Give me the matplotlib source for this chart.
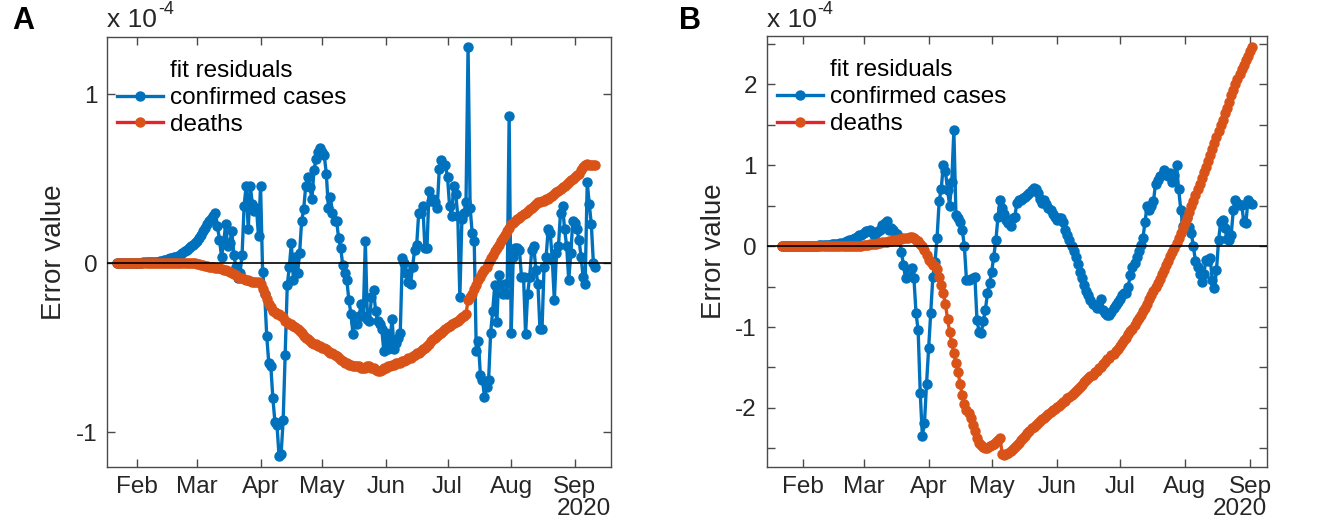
import numpy as np
import pandas as pd
import matplotlib
matplotlib.use('Agg')
import matplotlib.pyplot as plt
import matplotlib.dates as mdates
from matplotlib.lines import Line2D
from matplotlib.ticker import FixedLocator, FuncFormatter

# MATLAB-like palette
BLUE = '#0072BD'
ORANGE = '#D95319'
LEGEND_RED = '#E3242B'
TEXT = '#262626'
BOX = '#4a4a4a'

plt.rcParams.update({
    'font.family': ['Liberation Sans', 'DejaVu Sans'],
    'font.size': 17,
    'axes.unicode_minus': False,
})

# ---------------- data (residuals, units of 1e-4), daily from 22 Jan 2020 ----------------
start_date = '2020-01-22'

# panel A
cases_a = [
    0, 0, 0, 0, 0, 0, 0, 0, 0, 0,
    0, 0, 0, 0.005, 0.005, 0.005, 0.01, 0.01, 0.01, 0.01,
    0.01, 0.015, 0.015, 0.02, 0.02, 0.025, 0.03, 0.03, 0.035, 0.04,
    0.045, 0.05, 0.06, 0.07, 0.08, 0.09, 0.10, 0.11, 0.12, 0.13,
    0.15, 0.17, 0.19, 0.21, 0.23, 0.25, 0.26, 0.28, 0.30, 0.22,
    0.14, 0.04, 0.12, 0.23, 0.10, 0.12, 0.19, 0.05, -0.02, -0.09,
    -0.06, 0.05, 0.34, 0.46, 0.20, 0.46, 0.35, 0.31, 0.33, 0.16,
    0.46, -0.05, -0.18, -0.43, -0.59, -0.61, -0.80, -0.94, -0.96, -1.14,
    -1.13, -0.93, -0.54, -0.13, -0.02, 0.12, -0.10, 0.04, -0.06, 0.06,
    0.25, 0.32, 0.46, 0.51, 0.45, 0.38, 0.55, 0.62, 0.66, 0.68,
    0.66, 0.64, 0.53, 0.33, 0.39, 0.30, 0.25, 0.25, 0.15, 0.09,
    -0.01, -0.06, -0.10, -0.22, -0.30, -0.42, -0.35, -0.36, -0.31, -0.24,
    -0.31, 0.13, -0.33, -0.34, -0.20, -0.16, -0.28, -0.34, -0.36, -0.39,
    -0.52, -0.41, -0.51, -0.46, -0.33, -0.51, -0.47, -0.44, -0.41, 0.03,
    0.00, -0.06, -0.11, -0.12, -0.02, 0.08, 0.11, 0.30, 0.30, 0.34,
    0.09, 0.09, 0.43, 0.37, 0.38, 0.36, 0.33, 0.56, 0.61, 0.58,
    0.58, 0.51, 0.34, 0.28, 0.46, 0.41, 0.28, -0.20, 0.26, 0.30,
    0.36, 1.28, 0.33, 0.18, 0.13, -0.52, -0.46, -0.66, -0.69, -0.79,
    -0.73, -0.69, -0.41, -0.28, -0.13, -0.35, -0.07, -0.13, -0.18, -0.12,
    -0.18, 0.87, -0.41, 0.04, 0.09, 0.09, 0.08, -0.08, -0.08, -0.42,
    -0.18, -0.08, 0.08, 0.10, -0.04, -0.12, -0.39, -0.39, -0.02, 0.04,
    0.20, 0.18, 0.02, -0.22, 0.06, 0.10, 0.30, 0.34, 0.20, 0.10,
    -0.10, 0.06, 0.25, 0.24, 0.20, 0.14, 0.04, -0.08, -0.12, 0.48,
    0.35, 0.23, 0.00, -0.02,
]
deaths_a = [
    0, 0, 0, 0, 0, 0, 0, 0, 0, 0,
    0, 0, 0, 0, 0, 0, 0, 0, 0, 0,
    0, 0, 0, 0, 0, 0, 0, 0, 0, 0,
    0, 0, 0, 0, 0, 0, 0, 0, 0.0, -0.005,
    -0.005, -0.01, -0.01, -0.015, -0.015, -0.02, -0.02, -0.025, -0.03, -0.03,
    -0.03, -0.035, -0.04, -0.04, -0.045, -0.05, -0.06, -0.065, -0.07, -0.08,
    -0.085, -0.09, -0.095, -0.10, -0.10, -0.105, -0.11, -0.11, -0.11, -0.11,
    -0.12, -0.15, -0.18, -0.21, -0.24, -0.26, -0.28, -0.29, -0.30, -0.30,
    -0.31, -0.32, -0.34, -0.35, -0.36, -0.36, -0.37, -0.38, -0.39, -0.40,
    -0.41, -0.43, -0.44, -0.45, -0.46, -0.47, -0.48, -0.48, -0.49, -0.49,
    -0.50, -0.50, -0.51, -0.52, -0.53, -0.53, -0.54, -0.55, -0.56, -0.57,
    -0.58, -0.59, -0.59, -0.60, -0.60, -0.61, -0.61, -0.61, -0.61, -0.62,
    -0.62, -0.62, -0.61, -0.61, -0.62, -0.62, -0.63, -0.635, -0.64, -0.63,
    -0.62, -0.62, -0.61, -0.61, -0.60, -0.60, -0.59, -0.59, -0.59, -0.58,
    -0.58, -0.57, -0.56, -0.56, -0.55, -0.54, -0.53, -0.53, -0.52, -0.51,
    -0.50, -0.49, -0.48, -0.46, -0.45, -0.44, -0.43, -0.42, -0.41, -0.40,
    -0.39, -0.38, -0.37, -0.36, -0.355, -0.35, -0.34, -0.33, -0.32, -0.31,
    -0.30, -0.22, -0.20, -0.18, -0.15, -0.13, -0.10, -0.08, -0.06, -0.04,
    -0.02, 0.01, 0.03, 0.05, 0.07, 0.09, 0.11, 0.13, 0.15, 0.17,
    0.19, 0.21, 0.23, 0.24, 0.25, 0.26, 0.27, 0.28, 0.29, 0.30,
    0.31, 0.32, 0.33, 0.34, 0.35, 0.36, 0.36, 0.37, 0.37, 0.38,
    0.38, 0.39, 0.40, 0.41, 0.42, 0.43, 0.44, 0.45, 0.46, 0.47,
    0.48, 0.49, 0.50, 0.51, 0.52, 0.53, 0.55, 0.57, 0.58, 0.59,
    0.58, 0.58, 0.58, 0.58,
]

# panel B
cases_b = [
    0, 0, 0, 0, 0, 0, 0, 0, 0, 0,
    0, 0, 0, 0, 0, 0.005, 0.005, 0.005, 0.01, 0.01,
    0.01, 0.01, 0.015, 0.015, 0.02, 0.02, 0.025, 0.03, 0.035, 0.04,
    0.05, 0.06, 0.07, 0.08, 0.09, 0.10, 0.11, 0.13, 0.14, 0.16,
    0.18, 0.19, 0.20, 0.17, 0.14, 0.16, 0.18, 0.20, 0.26, 0.28,
    0.31, 0.20, 0.22, 0.20, 0.16, 0.15, 0.11, -0.07, -0.23, -0.40,
    -0.30, -0.31, -0.27, -0.40, -0.83, -1.04, -1.82, -2.34, -2.19, -1.70,
    -1.26, -0.83, -0.38, -0.20, 0.10, 0.55, 0.71, 1.00, 0.92, 0.69,
    0.50, 0.79, 1.43, 0.38, 0.34, 0.30, 0.20, 0.00, -0.42, -0.42,
    -0.41, -0.40, -0.38, -0.91, -1.06, -1.08, -0.93, -0.79, -0.58, -0.46,
    -0.32, -0.13, 0.07, 0.36, 0.57, 0.47, 0.40, 0.32, 0.28, 0.25,
    0.34, 0.36, 0.53, 0.57, 0.57, 0.59, 0.61, 0.63, 0.66, 0.69,
    0.72, 0.70, 0.65, 0.58, 0.53, 0.57, 0.52, 0.47, 0.44, 0.40,
    0.36, 0.32, 0.34, 0.34, 0.30, 0.20, 0.14, 0.07, 0.00, -0.06,
    -0.13, -0.22, -0.32, -0.40, -0.48, -0.55, -0.60, -0.67, -0.71, -0.73,
    -0.77, -0.75, -0.65, -0.79, -0.83, -0.85, -0.85, -0.81, -0.77, -0.73,
    -0.69, -0.65, -0.60, -0.58, -0.58, -0.50, -0.36, -0.26, -0.21, -0.13,
    -0.06, 0.01, 0.10, 0.30, 0.50, 0.44, 0.50, 0.55, 0.77, 0.81,
    0.86, 0.88, 0.94, 0.90, 0.86, 0.90, 0.79, 0.88, 1.00, 0.70,
    0.45, 0.25, 0.32, 0.36, 0.24, 0.16, 0.00, -0.19, -0.26, -0.34,
    -0.44, -0.34, -0.17, -0.19, -0.15, -0.42, -0.52, -0.30, 0.07, 0.30,
    0.32, 0.22, 0.09, 0.07, 0.14, 0.44, 0.57, 0.53, 0.51, 0.51,
    0.30, 0.28, 0.57, 0.53, 0.52,
]
deaths_b = [
    0, 0, 0, 0, 0, 0, 0, 0, 0, 0,
    0, 0, 0, 0, 0, 0, 0, 0, 0, 0,
    0, 0, 0, 0, 0, 0, 0, 0, 0, 0,
    0, 0, 0, 0, 0, 0, 0, 0, 0.005, 0.01,
    0.01, 0.015, 0.02, 0.02, 0.025, 0.03, 0.035, 0.04, 0.045, 0.05,
    0.055, 0.06, 0.065, 0.07, 0.075, 0.08, 0.085, 0.09, 0.095, 0.10,
    0.10, 0.11, 0.11, 0.10, 0.08, 0.06, 0.03, 0.00, -0.05, -0.11,
    -0.17, -0.20, -0.23, -0.25, -0.28, -0.38, -0.48, -0.58, -0.72, -0.90,
    -1.06, -1.20, -1.32, -1.45, -1.56, -1.70, -1.84, -1.95, -2.02, -2.06,
    -2.12, -2.21, -2.29, -2.37, -2.43, -2.46, -2.48, -2.50, -2.49, -2.47,
    -2.46, -2.44, -2.42, -2.39, -2.37, -2.57, -2.58, -2.57, -2.55, -2.53,
    -2.51, -2.48, -2.46, -2.43, -2.40, -2.37, -2.34, -2.31, -2.28, -2.25,
    -2.23, -2.21, -2.19, -2.16, -2.14, -2.12, -2.10, -2.08, -2.05, -2.03,
    -2.01, -1.99, -1.97, -1.95, -1.93, -1.91, -1.88, -1.86, -1.84, -1.82,
    -1.79, -1.77, -1.74, -1.71, -1.68, -1.66, -1.63, -1.61, -1.59, -1.56,
    -1.54, -1.51, -1.49, -1.46, -1.43, -1.40, -1.38, -1.35, -1.33, -1.30,
    -1.27, -1.24, -1.20, -1.16, -1.13, -1.09, -1.05, -1.02, -0.98, -0.93,
    -0.89, -0.85, -0.80, -0.76, -0.71, -0.66, -0.61, -0.56, -0.51, -0.46,
    -0.41, -0.35, -0.30, -0.24, -0.18, -0.12, -0.07, -0.02, 0.04, 0.10,
    0.16, 0.22, 0.28, 0.35, 0.42, 0.49, 0.56, 0.63, 0.70, 0.77,
    0.84, 0.91, 0.98, 1.05, 1.12, 1.20, 1.27, 1.34, 1.42, 1.49,
    1.56, 1.64, 1.71, 1.78, 1.86, 1.93, 2.00, 2.06, 2.12, 2.18,
    2.24, 2.30, 2.35, 2.41, 2.46,
]

series_labels = ['fit residuals', 'confirmed cases', 'deaths']
panel_letters = ['A', 'B']


def draw_panel(ax, cases, deaths, xlim, ylim, yticks):
    dates = pd.date_range(start_date, periods=len(cases), freq='D')
    ax.plot(dates, cases, '-o', color=BLUE, lw=2.4, ms=6.5, mec=BLUE, mfc=BLUE, zorder=2)
    ax.plot(dates, deaths, '-o', color=ORANGE, lw=2.4, ms=6.5, mec=ORANGE, mfc=ORANGE, zorder=2.1)
    ax.axhline(0, color='black', lw=1.2, zorder=3)

    ax.set_xlim(pd.Timestamp(xlim[0]), pd.Timestamp(xlim[1]))
    ax.set_ylim(*ylim)
    ax.xaxis.set_major_locator(mdates.MonthLocator())
    ax.xaxis.set_major_formatter(mdates.DateFormatter('%b'))
    ax.yaxis.set_major_locator(FixedLocator(yticks))
    ax.yaxis.set_major_formatter(FuncFormatter(
        lambda v, _: f'{int(round(v))}' if abs(v - round(v)) < 1e-9 else ''))

    ax.tick_params(direction='in', length=6, width=1, top=True, right=True,
                   colors=BOX, labelcolor=TEXT, labelsize=17.5)
    ax.tick_params(axis='x', pad=7)
    ax.tick_params(axis='y', pad=7)
    for sp in ax.spines.values():
        sp.set_color(BOX)
        sp.set_linewidth(1.0)

    ax.set_ylabel('Error value', color=TEXT, fontsize=20, labelpad=6)
    ax.text(1.0, -0.072, '2020', transform=ax.transAxes,
            ha='right', va='top', fontsize=17.5, color=TEXT)

    handles = [
        Line2D([], [], color='none'),
        Line2D([], [], color=BLUE, lw=2.4, marker='o', ms=6.5),
        Line2D([], [], color=LEGEND_RED, lw=2.4, marker='o', ms=6.5, mfc=ORANGE, mec=ORANGE),
    ]
    ax.legend(handles, series_labels, loc='upper left', bbox_to_anchor=(-0.014, 0.985),
              frameon=False, fontsize=17.5, handlelength=1.9, handletextpad=0.3,
              labelspacing=0.2, borderaxespad=0.3)


def add_exponent(fig, ax):
    # "x 10" with a small raised "-4", as MATLAB draws the axis multiplier
    base = ax.text(0.0, 1.01, 'x 10', transform=ax.transAxes,
                   ha='left', va='bottom', fontsize=19, color=TEXT)
    fig.canvas.draw()
    bb = base.get_window_extent()
    x_ax, _ = ax.transAxes.inverted().transform((bb.x1 + 1, bb.y1))
    ax.annotate('-4', xy=(x_ax, 1.01), xycoords='axes fraction',
                xytext=(0, 10), textcoords='offset points',
                ha='left', va='bottom', fontsize=13, color=TEXT)


fig = plt.figure(figsize=(13.29, 5.21), dpi=100)
ax_a = fig.add_axes([0.0805, 0.1042, 0.379, 0.8254])
ax_b = fig.add_axes([0.5769, 0.1042, 0.3767, 0.8267])

draw_panel(ax_a, cases_a, deaths_a,
           ('2020-01-17 06:00', '2020-09-18 10:00'), (-1.204, 1.341), [-1, 0, 1])
draw_panel(ax_b, cases_b, deaths_b,
           ('2020-01-14 22:00', '2020-09-09 05:00'), (-2.725, 2.593),
           list(np.arange(-2.5, 2.51, 0.5)))
add_exponent(fig, ax_a)
add_exponent(fig, ax_b)

fig.text(0.009, 0.96, panel_letters[0], fontsize=22, fontweight='bold', color='black', va='center')
fig.text(0.511, 0.96, panel_letters[1], fontsize=22, fontweight='bold', color='black', va='center')

fig.savefig('out.png', dpi=100)
